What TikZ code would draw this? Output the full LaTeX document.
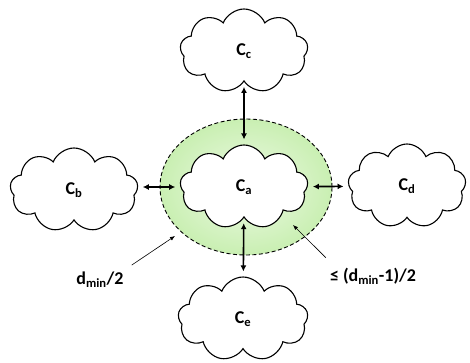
\documentclass[tikz,border=0pt]{standalone}
\usepackage{fontspec}
\setmainfont{Carlito}
\usetikzlibrary{shapes.symbols,arrows.meta}
\definecolor{ringin}{HTML}{EEFAE6}
\definecolor{ringout}{HTML}{C9EFB2}
\begin{document}
\begin{tikzpicture}[x=1pt,y=-1pt,
  cloudbox/.style={cloud, cloud puffs=9, cloud puff arc=135, aspect=1.5,
    draw, line width=1.1pt, fill=white, minimum width=#1, minimum height=84pt,
    inner sep=0pt, font=\fontsize{18}{20}\selectfont\bfseries},
  link/.style={{Latex[length=6pt,width=6pt]}-{Latex[length=6pt,width=6pt]},
    line width=1.6pt, shorten <=5pt, shorten >=5pt},
  note/.style={font=\fontsize{18}{20}\selectfont\bfseries, inner sep=0pt},
  pointer/.style={-{Latex[length=5pt,width=4pt]}, line width=0.6pt}]
\useasboundingbox (0,0) rectangle (470,362);

% decoding region around the central codeword
\shade[inner color=ringin, outer color=ringout]
  (246,187) ellipse [x radius=86pt, y radius=68pt];
\draw[line width=0.9pt, dash pattern=on 4pt off 2.5pt]
  (246,187) ellipse [x radius=86pt, y radius=68pt];

% codewords
\node[cloudbox=128pt] (ca) at (244,187) {C\textsubscript{a}};
\node[cloudbox=128pt] (cc) at (244,51) {C\textsubscript{c}};
\node[cloudbox=128pt] (cb) at (74,190) {C\textsubscript{b}};
\node[cloudbox=118pt] (cd) at (407,186) {C\textsubscript{d}};
\node[cloudbox=130pt] (ce) at (243,319) {C\textsubscript{e}};

% distances between neighbouring codewords
\draw[link] (cc) -- (ca);
\draw[link] (ca) -- (ce);
\draw[link] (cb.east |- ca.west) -- (ca.west);
\draw[link] (ca) -- (cd);

% radius annotations
\node[note] (dl) at (100,280) {d\textsubscript{min}/2};
\coordinate (dlp) at (175,236);
\draw[pointer] ([shift={(8pt,7pt)}]dl.north east) -- (dlp);

\node[note] (dr) at (373,276) {≤ (d\textsubscript{min}-1)/2};
\coordinate (drp) at (293,225);
\draw[pointer] ([shift={(-4pt,10pt)}]dr.north west) -- (drp);
\end{tikzpicture}
\end{document}
